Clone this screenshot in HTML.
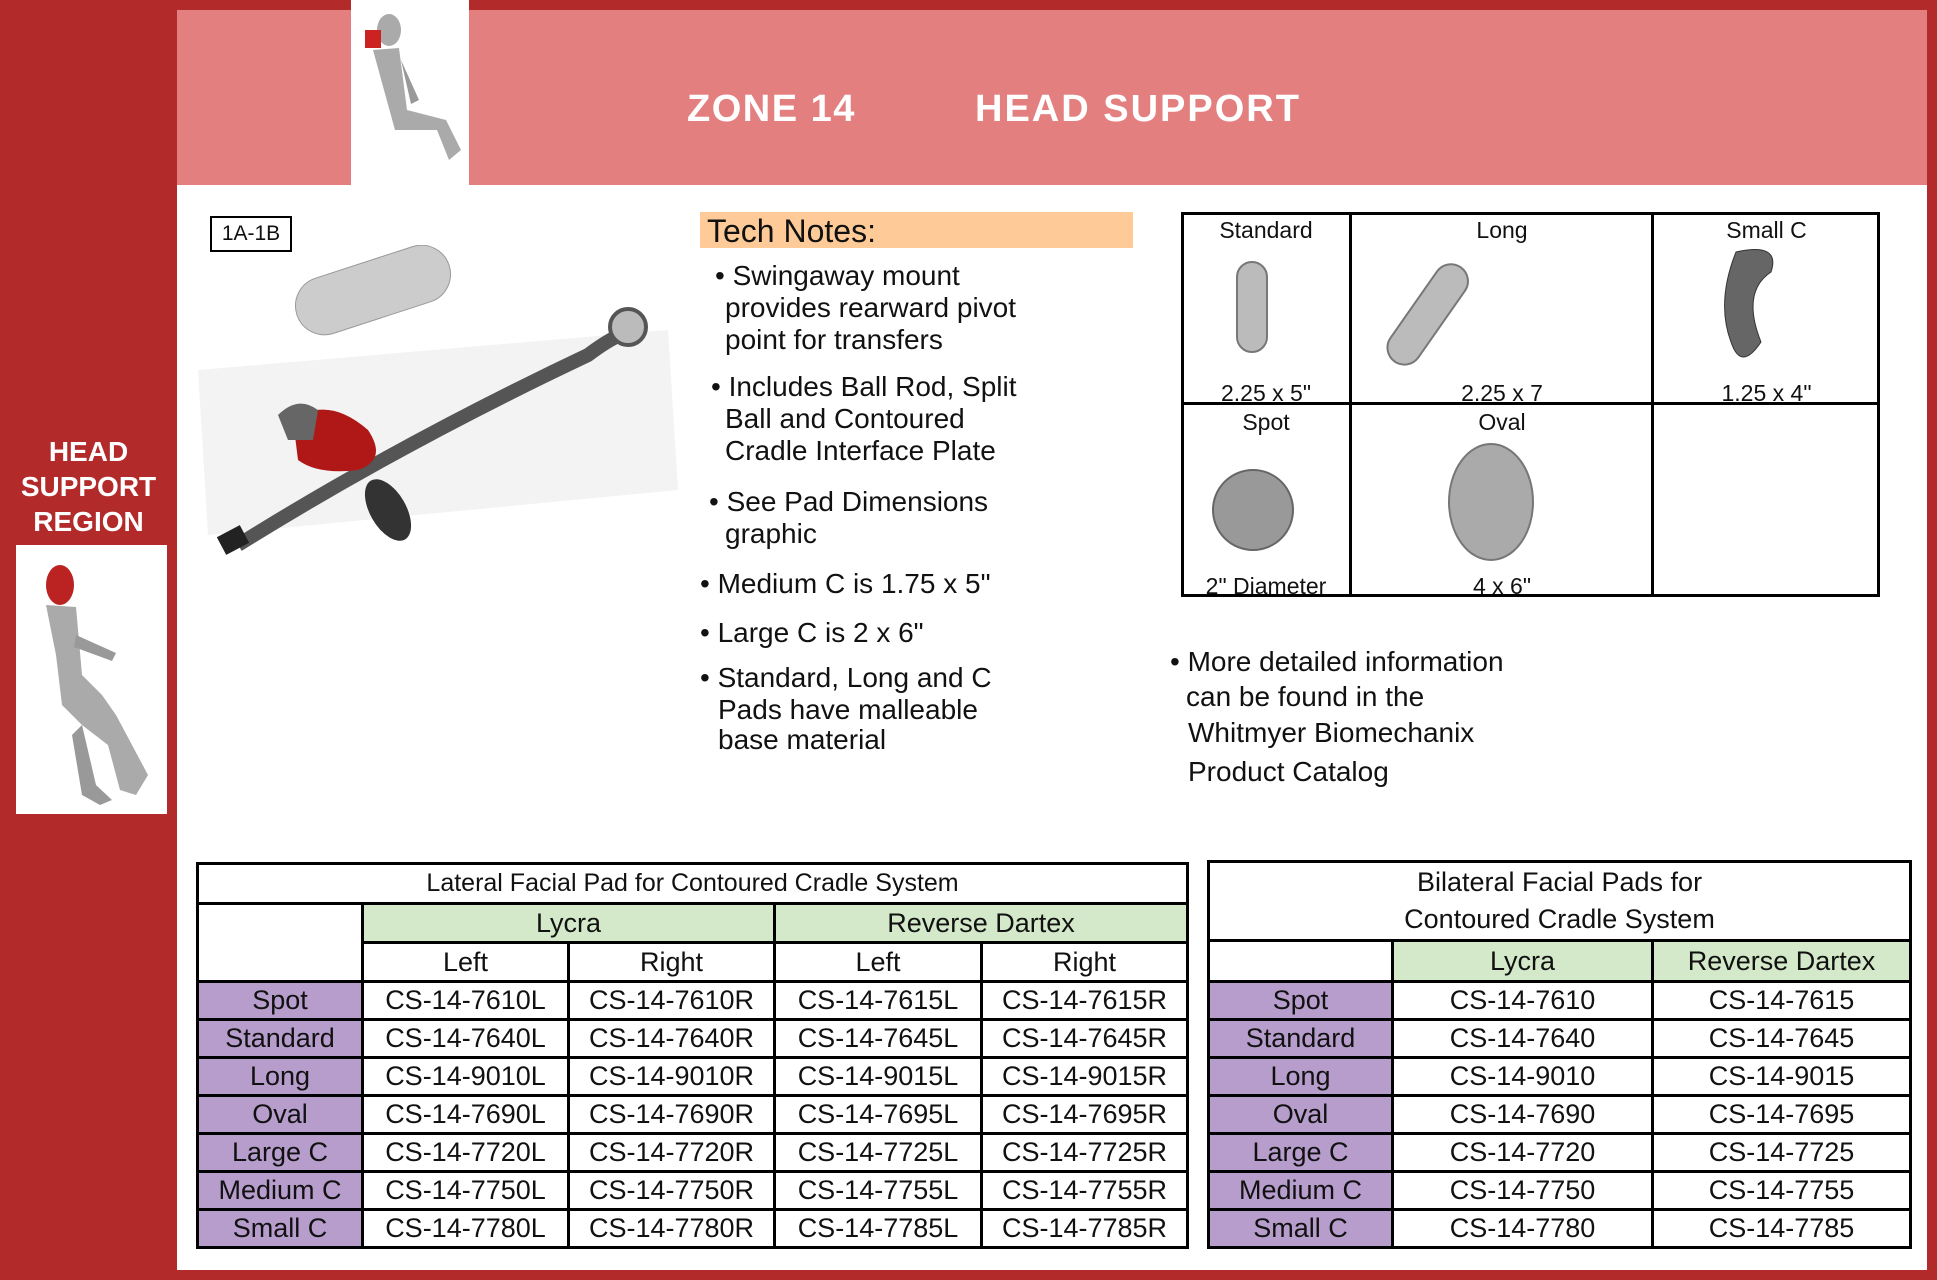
<!DOCTYPE html>
<html><head><meta charset="utf-8"><style>
*{margin:0;padding:0;box-sizing:border-box}
body{width:1937px;height:1280px;position:relative;background:#fff;font-family:"Liberation Sans",Arial,sans-serif;overflow:hidden;color:#111}
.a{position:absolute}
.t{position:absolute;font-size:27px;white-space:nowrap;line-height:1}
.n{font-size:28px!important}
table{position:absolute;border-collapse:collapse;table-layout:fixed;font-size:27px}
td{border:3px solid #000;text-align:center;padding:0;line-height:1;white-space:nowrap;overflow:hidden}
.g{background:#d3e9c9}.p{background:#b69dcc}
</style></head><body>
<div class="a" style="left:0;top:0;width:1937px;height:1280px;background:#b22a2a"></div>
<div class="a" style="left:177px;top:10px;width:1750px;height:1260px;background:#fff"></div>
<div class="a" style="left:177px;top:10px;width:1750px;height:175px;background:#e47f80"></div>
<div class="a" style="left:351px;top:0;width:118px;height:185px;background:#fff"></div>
<svg class="a" style="left:351px;top:0" width="118" height="185">
<ellipse cx="38" cy="30" rx="12" ry="16" fill="#aaa"/><rect x="14" y="30" width="16" height="18" fill="#c22"/>
<path d="M22 50 L48 48 L56 110 L95 120 L110 150 L98 160 L86 130 L44 130 Z" fill="#aaa"/>
<path d="M50 60 L68 100 L60 104 Z" fill="#999"/>
</svg>
<div class="t" style="left:687px;top:90px;font-size:38px;letter-spacing:1.5px;font-weight:bold;color:#fff">ZONE 14</div>
<div class="t" style="left:975px;top:90px;font-size:38px;letter-spacing:2px;font-weight:bold;color:#fff">HEAD SUPPORT</div>
<div class="t" style="left:0;width:177px;text-align:center;top:434px;font-size:28px;font-weight:bold;color:#fff;line-height:35px;white-space:normal">HEAD<br>SUPPORT<br>REGION</div>
<div class="a" style="left:16px;top:545px;width:151px;height:269px;background:#fff"></div>
<svg class="a" style="left:16px;top:545px" width="151" height="269">
<ellipse cx="44" cy="40" rx="14" ry="20" fill="#b22"/>
<path d="M30 60 L60 62 L66 130 L86 150 L100 170 L132 230 L120 250 L104 245 L92 200 L66 180 L46 160 L40 110 Z" fill="#aaa"/>
<path d="M60 90 L100 108 L96 116 L58 102 Z" fill="#999"/>
<path d="M66 180 L80 240 L96 255 L84 260 L66 250 L56 190 Z" fill="#999"/>
</svg>
<div class="a" style="left:210px;top:216px;width:82px;height:36px;border:2px solid #000"></div>
<div class="t" style="left:210px;top:223px;width:82px;text-align:center;font-size:21px">1A-1B</div>
<svg class="a" style="left:198px;top:245px" width="490" height="330">
<polygon points="0,125 470,85 480,245 10,290" fill="#f3f3f3"/>
<rect x="95" y="16" width="160" height="58" rx="29" fill="#ccc" stroke="#999" transform="rotate(-18 175 45)"/>
<path d="M40 300 Q200 200 390 110 Q430 80 440 90" stroke="#555" stroke-width="14" fill="none"/>
<circle cx="430" cy="82" r="18" fill="#bbb" stroke="#555" stroke-width="4"/>
<ellipse cx="190" cy="265" rx="18" ry="34" fill="#333" transform="rotate(-30 190 265)"/>
<path d="M95 175 Q130 150 170 185 Q190 215 160 225 Q120 230 100 215 Z" fill="#b01818"/>
<path d="M80 170 Q100 150 120 165 L115 195 L90 195 Z" fill="#666"/>
<rect x="22" y="285" width="26" height="20" fill="#222" transform="rotate(-28 35 295)"/>
</svg>
<div class="a" style="left:700px;top:212px;width:433px;height:36px;background:#fecb98"></div>
<div class="t" style="left:707px;top:215px;font-size:32px">Tech Notes:</div>
<div class="t n" style="left:715px;top:260px;line-height:32px">• Swingaway mount</div>
<div class="t n" style="left:725px;top:292px;line-height:32px">provides rearward pivot<br>point for transfers</div>
<div class="t n" style="left:711px;top:371px;line-height:32px">• Includes Ball Rod, Split</div>
<div class="t n" style="left:725px;top:403px;line-height:32px">Ball and Contoured<br>Cradle Interface Plate</div>
<div class="t n" style="left:709px;top:486px;line-height:32px">• See Pad Dimensions</div>
<div class="t n" style="left:725px;top:518px;line-height:32px">graphic</div>
<div class="t n" style="left:700px;top:570px">• Medium C is 1.75 x 5"</div>
<div class="t n" style="left:700px;top:619px">• Large C is 2 x 6"</div>
<div class="t n" style="left:700px;top:664px">• Standard, Long and C</div>
<div class="t n" style="left:718px;top:695px;line-height:30px">Pads have malleable<br>base material</div>
<div class="a" style="left:1181px;top:212px;width:699px;height:385px;border:3px solid #000"></div>
<div class="a" style="left:1349px;top:212px;width:3px;height:385px;background:#000"></div>
<div class="a" style="left:1651px;top:212px;width:3px;height:385px;background:#000"></div>
<div class="a" style="left:1181px;top:402px;width:699px;height:3px;background:#000"></div>
<div class="t" style="left:1181px;width:170px;text-align:center;top:219px;font-size:23px">Standard</div>
<div class="t" style="left:1351px;width:302px;text-align:center;top:219px;font-size:23px">Long</div>
<div class="t" style="left:1653px;width:227px;text-align:center;top:219px;font-size:23px">Small C</div>
<div class="t" style="left:1181px;width:170px;text-align:center;top:382px;font-size:23px">2.25 x 5"</div>
<div class="t" style="left:1351px;width:302px;text-align:center;top:382px;font-size:23px">2.25 x 7</div>
<div class="t" style="left:1653px;width:227px;text-align:center;top:382px;font-size:23px">1.25 x 4"</div>
<div class="t" style="left:1181px;width:170px;text-align:center;top:411px;font-size:23px">Spot</div>
<div class="t" style="left:1351px;width:302px;text-align:center;top:411px;font-size:23px">Oval</div>
<div class="t" style="left:1181px;width:170px;text-align:center;top:575px;font-size:23px">2" Diameter</div>
<div class="t" style="left:1351px;width:302px;text-align:center;top:575px;font-size:23px">4 x 6"</div>
<svg class="a" style="left:1181px;top:212px" width="699" height="385">
<rect x="56" y="50" width="30" height="90" rx="15" fill="#bbb" stroke="#777" stroke-width="2"/>
<rect x="230" y="45" width="34" height="115" rx="17" fill="#bbb" stroke="#777" stroke-width="2" transform="rotate(35 247 102)"/>
<path d="M555 40 Q600 30 590 60 Q560 80 580 130 Q560 160 550 130 Q535 90 555 40 Z" fill="#666" stroke="#333"/>
<circle cx="72" cy="298" r="40" fill="#999" stroke="#666" stroke-width="2"/>
<ellipse cx="310" cy="290" rx="42" ry="58" fill="#aaa" stroke="#777" stroke-width="2"/>
</svg>
<div class="t n" style="left:1170px;top:648px">• More detailed information</div>
<div class="t n" style="left:1186px;top:683px">can be found in the</div>
<div class="t n" style="left:1188px;top:719px">Whitmyer Biomechanix</div>
<div class="t n" style="left:1188px;top:758px">Product Catalog</div>
<table style="left:196px;top:862px;width:990px">
<colgroup><col style="width:165px"><col style="width:206px"><col style="width:206px"><col style="width:207px"><col style="width:206px"></colgroup>
<tr style="height:40px"><td colspan="5" style="font-size:25px">Lateral Facial Pad for Contoured Cradle System</td></tr>
<tr style="height:39px"><td rowspan="2"></td><td colspan="2" class="g">Lycra</td><td colspan="2" class="g">Reverse Dartex</td></tr>
<tr style="height:39px"><td>Left</td><td>Right</td><td>Left</td><td>Right</td></tr>
<tr style="height:38px"><td class="p">Spot</td><td>CS-14-7610L</td><td>CS-14-7610R</td><td>CS-14-7615L</td><td>CS-14-7615R</td></tr>
<tr style="height:38px"><td class="p">Standard</td><td>CS-14-7640L</td><td>CS-14-7640R</td><td>CS-14-7645L</td><td>CS-14-7645R</td></tr>
<tr style="height:38px"><td class="p">Long</td><td>CS-14-9010L</td><td>CS-14-9010R</td><td>CS-14-9015L</td><td>CS-14-9015R</td></tr>
<tr style="height:38px"><td class="p">Oval</td><td>CS-14-7690L</td><td>CS-14-7690R</td><td>CS-14-7695L</td><td>CS-14-7695R</td></tr>
<tr style="height:38px"><td class="p">Large C</td><td>CS-14-7720L</td><td>CS-14-7720R</td><td>CS-14-7725L</td><td>CS-14-7725R</td></tr>
<tr style="height:38px"><td class="p">Medium C</td><td>CS-14-7750L</td><td>CS-14-7750R</td><td>CS-14-7755L</td><td>CS-14-7755R</td></tr>
<tr style="height:38px"><td class="p">Small C</td><td>CS-14-7780L</td><td>CS-14-7780R</td><td>CS-14-7785L</td><td>CS-14-7785R</td></tr>
</table>
<table style="left:1207px;top:860px;width:702px">
<colgroup><col style="width:184px"><col style="width:260px"><col style="width:258px"></colgroup>
<tr style="height:79px"><td colspan="3" style="line-height:37px">Bilateral Facial Pads for<br>Contoured Cradle System</td></tr>
<tr style="height:41px"><td></td><td class="g">Lycra</td><td class="g">Reverse Dartex</td></tr>
<tr style="height:38px"><td class="p">Spot</td><td>CS-14-7610</td><td>CS-14-7615</td></tr>
<tr style="height:38px"><td class="p">Standard</td><td>CS-14-7640</td><td>CS-14-7645</td></tr>
<tr style="height:38px"><td class="p">Long</td><td>CS-14-9010</td><td>CS-14-9015</td></tr>
<tr style="height:38px"><td class="p">Oval</td><td>CS-14-7690</td><td>CS-14-7695</td></tr>
<tr style="height:38px"><td class="p">Large C</td><td>CS-14-7720</td><td>CS-14-7725</td></tr>
<tr style="height:38px"><td class="p">Medium C</td><td>CS-14-7750</td><td>CS-14-7755</td></tr>
<tr style="height:38px"><td class="p">Small C</td><td>CS-14-7780</td><td>CS-14-7785</td></tr>
</table>
</body></html>
